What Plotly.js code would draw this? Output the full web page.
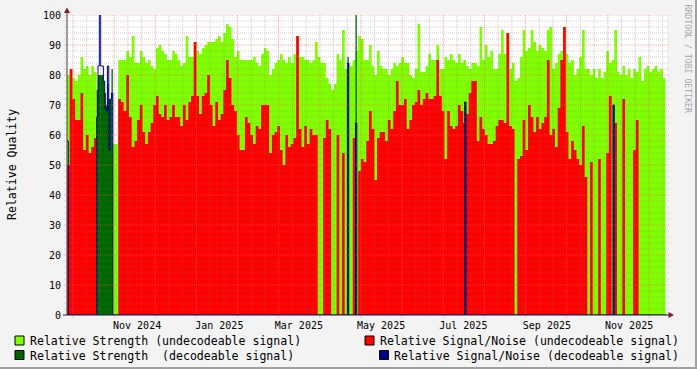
<!DOCTYPE html>
<html><head><meta charset="utf-8">
<script src="https://cdn.plot.ly/plotly-3.0.1.min.js"></script>
<style>html,body{margin:0;padding:0;background:#F3F3F3;}#chart{width:697px;height:369px;}</style>
</head><body><div id="chart"></div>
<script>
// ---------- DATA ----------
const slotStart = '2024-09-10';
const slotDays = 2;
const strengthUndecodeable = [
80,82,79,78,80,86,82,83,80,83,81,
0,0,0,0,0,0,
57,57,
85,85,85,88,86,93,84,84,88,86,84,
85,83,82,89,90,88,87,85,85,88,
87,85,83,84,93,86,86,91,88,87,
89,90,91,91,91,92,93,91,94,97,
96,92,86,88,85,85,85,85,85,86,
84,83,87,89,88,80,82,84,85,87,
85,84,86,84,87,93,86,86,85,85,
84,85,91,86,84,84,79,77,75,77,
87,85,95,82,84,83,85,88,93,92,
85,85,90,83,80,88,83,82,82,80,
82,84,83,84,86,84,84,80,79,82,
97,81,81,83,87,85,85,90,82,82,
86,85,87,85,84,87,84,85,83,82,
84,84,83,96,85,90,86,88,82,82,
87,95,87,94,82,84,78,79,86,95,
88,89,95,91,88,90,89,88,95,96,
82,84,87,88,96,87,84,85,80,82,
86,95,82,82,80,82,79,82,79,81,
88,84,85,95,81,80,83,80,82,79,
82,81,86,78,82,83,81,82,83,81,
82,79,0];
const snrUndecodeable = [
50,82,72,65,65,74,55,60,54,56,59,
0,0,0,0,0,0,0,0,
72,71,68,80,66,56,58,65,70,61,57,
61,64,70,73,67,66,70,65,66,70,
66,66,63,70,65,71,73,91,73,67,
73,74,80,70,63,71,65,67,75,85,
79,70,68,60,55,55,66,64,60,57,
63,62,70,70,70,54,60,61,63,55,
50,60,56,57,59,93,62,56,63,57,
62,60,60,0,0,59,65,62,0,0,
60,0,54,0,0,0,59,0,48,52,
51,58,68,62,45,59,61,61,58,65,
62,68,78,70,70,72,62,65,70,71,
75,70,72,74,72,72,73,85,73,68,
52,68,63,62,63,70,68,64,67,74,
78,78,58,66,62,60,57,57,58,63,
65,65,64,94,63,62,0,52,53,65,
55,70,66,61,66,62,64,66,85,60,
62,56,69,85,96,61,52,58,55,52,
50,63,46,0,51,0,0,52,0,0,
54,73,0,64,0,0,72,0,0,0,
55,65,0,0,0,0,0,0,0,0,
0,0,0];
const decodeDates = ['2024-10-02','2024-10-03','2024-10-04','2024-10-05','2024-10-06','2024-10-07',
  '2024-10-08','2024-10-09','2024-10-10','2024-10-11','2024-10-12','2024-10-13','2024-10-14',
  '2025-04-06','2025-04-07','2025-04-12','2025-04-13','2025-07-02','2025-07-03','2025-10-20','2025-10-21'];
const strengthDecodeable = [75,80,80,80,80,78,74,70,77,72,72,82,0, 86,0, 100,0, 71,0, 70,0];
const snrDecodeDates = ['2024-09-10','2024-09-11','2024-10-02','2024-10-03','2024-10-04','2024-10-05','2024-10-06',
  '2024-10-07','2024-10-08','2024-10-09','2024-10-10','2024-10-11','2024-10-12','2024-10-13','2024-10-14',
  '2025-04-06','2025-04-07','2025-04-12','2025-04-13','2025-07-02','2025-07-03','2025-10-20','2025-10-21','2025-11-29'];
const snrDecodeable = [58,0,66,83,100,83,83,78,69,68,83,55,72,74,0,84,0,64,0,71,0,70,0,0];
const tickDates = ['2024-11-01','2025-01-01','2025-03-01','2025-05-01','2025-07-01','2025-09-01','2025-11-01'];
const tickLabels = ['Nov 2024','Jan 2025','Mar 2025','May 2025','Jul 2025','Sep 2025','Nov 2025'];
const yTicks = [0,10,20,30,40,50,60,70,80,90,100];
const legendLabels = ['Relative Strength (undecodeable signal)','Relative Strength \u00A0(decodeable signal)',
  'Relative Signal/Noise (undecodeable signal)','Relative Signal/Noise (decodeable signal)'];

// ---------- STYLE ----------
const C_LG = '#80FF00', C_RED = '#FF0000', C_DG = '#006600', C_BLUE = '#000090';
const FONT = 'DejaVu Sans Mono, monospace';
const DAY = 86400000;
const t0 = Date.UTC(2024, 8, 10);
const fmt = ms => new Date(ms).toISOString().replace('T', ' ').replace('Z', '');
const slotDates = strengthUndecodeable.map((_, i) => fmt(Date.parse(slotStart + 'T00:00:00Z') + i * slotDays * DAY));
const xRange = [fmt(t0), fmt(t0 + 445.1 * DAY)];

const L = 67, T = 15, PW = 600, PH = 300;
const px = p => (p - L) / PW;
const py = p => (T + PH - p) / PH;

const traces = [
  {x: slotDates, y: strengthUndecodeable, type: 'scatter', mode: 'lines', line: {shape: 'hv', width: 0, color: C_LG},
   fill: 'tozeroy', fillcolor: C_LG, hoverinfo: 'skip', showlegend: false},
  {x: slotDates, y: snrUndecodeable, type: 'scatter', mode: 'lines', line: {shape: 'hv', width: 0, color: C_RED},
   fill: 'tozeroy', fillcolor: C_RED, hoverinfo: 'skip', showlegend: false},
  {x: decodeDates, y: strengthDecodeable, type: 'scatter', mode: 'lines', line: {shape: 'hv', width: 0, color: C_DG},
   fill: 'tozeroy', fillcolor: C_DG, hoverinfo: 'skip', showlegend: false},
  {x: snrDecodeDates, y: snrDecodeable, type: 'scatter', mode: 'lines', line: {shape: 'hv', width: 1, color: C_BLUE},
   hoverinfo: 'skip', showlegend: false}
];

const shapes = [];
const MINOR = 'rgba(120,120,120,0.35)', MAJOR = 'rgba(255,90,90,0.55)';
for (let v = 2; v <= 100; v += 2) {
  shapes.push({type: 'line', xref: 'paper', yref: 'y', x0: px(64), x1: px(670), y0: v, y1: v, layer: 'above',
    line: {color: v % 10 === 0 ? MAJOR : MINOR, width: 1, dash: '1px,1px'}});
}
const majorStart = 4.45, majorStep = 30.52;
for (let k = 0; k < 15; k++) {
  const d = majorStart + k * majorStep;
  for (let m = 0; m < 3; m++) {
    const dd = d + m * majorStep / 3;
    if (dd > 445) continue;
    const xs = fmt(t0 + dd * DAY);
    shapes.push({type: 'line', xref: 'x', yref: 'paper', x0: xs, x1: xs, y0: m === 0 ? py(318) : 0, y1: 1, layer: 'above',
      line: {color: m === 0 ? MAJOR : MINOR, width: 1, dash: '1px,1px'}});
  }
}
// axes + arrows
shapes.push({type: 'line', xref: 'paper', yref: 'paper', x0: px(67), x1: px(67), y0: py(315), y1: py(12), layer: 'above', line: {color: '#404040', width: 1}});
shapes.push({type: 'line', xref: 'paper', yref: 'paper', x0: px(63), x1: px(669), y0: py(315), y1: py(315), layer: 'above', line: {color: '#202040', width: 1}});
shapes.push({type: 'path', xref: 'paper', yref: 'paper', layer: 'above', line: {width: 0}, fillcolor: '#7F1F1F',
  path: `M ${px(64)} ${py(13)} L ${px(70)} ${py(13)} L ${px(67)} ${py(7.5)} Z`});
shapes.push({type: 'path', xref: 'paper', yref: 'paper', layer: 'above', line: {width: 0}, fillcolor: '#7F1F1F',
  path: `M ${px(668.5)} ${py(312)} L ${px(668.5)} ${py(318)} L ${px(674)} ${py(315)} Z`});
// frame borders
shapes.push({type: 'rect', xref: 'paper', yref: 'paper', x0: px(695), x1: px(697), y0: py(0), y1: py(369), line: {width: 0}, fillcolor: '#A0A0A0', layer: 'above'});
shapes.push({type: 'rect', xref: 'paper', yref: 'paper', x0: px(0), x1: px(697), y0: py(367), y1: py(369), line: {width: 0}, fillcolor: '#A0A0A0', layer: 'above'});

// legend
const legendItems = [
  {box: [15, 336], text: [29, 341], color: C_LG, label: legendLabels[0]},
  {box: [15, 350.5], text: [29, 355.5], color: C_DG, label: legendLabels[1]},
  {box: [365, 336], text: [379, 341], color: C_RED, label: legendLabels[2]},
  {box: [379.5, 350.5], text: [393, 355.5], color: C_BLUE, label: legendLabels[3]}
];
const annotations = [];
legendItems.forEach(it => {
  shapes.push({type: 'rect', xref: 'paper', yref: 'paper', x0: px(it.box[0]), x1: px(it.box[0] + 9),
    y0: py(it.box[1]), y1: py(it.box[1] + 9), fillcolor: it.color, line: {color: '#000', width: 1}});
  annotations.push({xref: 'paper', yref: 'paper', x: px(it.text[0]), y: py(it.text[1]), xanchor: 'left', yanchor: 'middle',
    showarrow: false, text: it.label, font: {family: FONT, size: 11.55, color: '#000'}, borderpad: 0});
});
annotations.push({xref: 'paper', yref: 'paper', x: px(12), y: py(165), xanchor: 'center', yanchor: 'middle', showarrow: false,
  textangle: -90, text: 'Relative Quality', font: {family: FONT, size: 11.55, color: '#000'}});
annotations.push({xref: 'paper', yref: 'paper', x: px(687.5), y: py(59), xanchor: 'center', yanchor: 'middle', showarrow: false,
  textangle: 90, text: 'RRDTOOL / TOBI OETIKER', font: {family: FONT, size: 8.2, color: '#A8A8A8'}});

const layout = {
  width: 697, height: 369,
  margin: {l: 67, r: 30, t: 15, b: 54, pad: 0},
  paper_bgcolor: '#F3F3F3', plot_bgcolor: '#FFFFFF',
  showlegend: false,
  xaxis: {type: 'date', range: xRange, tickmode: 'array', tickvals: tickDates, ticktext: tickLabels,
    showgrid: false, zeroline: false, showline: false, ticks: '', ticklabelstandoff: 3, fixedrange: true,
    tickfont: {family: FONT, size: 10, color: '#000'}},
  yaxis: {range: [0, 100], tickmode: 'array', tickvals: yTicks, showgrid: false, zeroline: false, showline: false,
    ticks: '', ticklabelstandoff: 5, fixedrange: true, tickfont: {family: FONT, size: 10, color: '#000'}},
  shapes: shapes, annotations: annotations
};
Plotly.newPlot('chart', traces, layout, {staticPlot: true, displayModeBar: false});
</script>
</body></html>
